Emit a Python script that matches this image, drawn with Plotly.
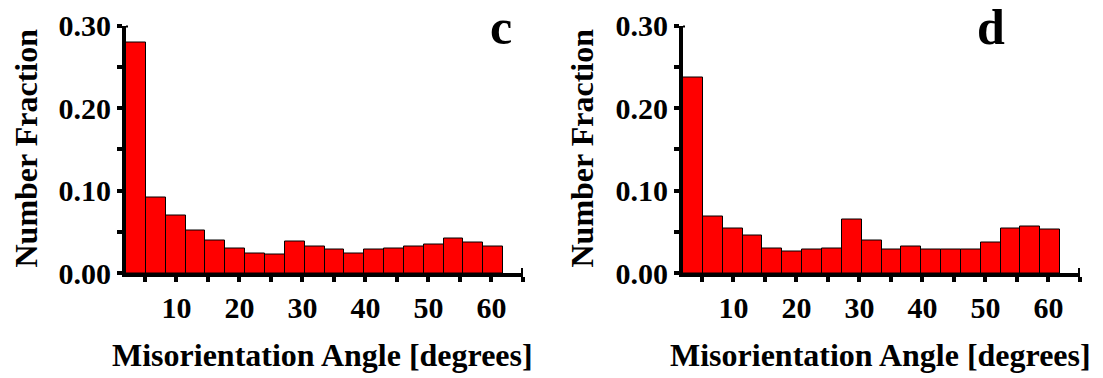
import plotly.graph_objects as go

W, H = 1103, 378

# Data (number fraction per misorientation bin)
bin_start = 2.0
bin_width = 3.15
frac_c = [0.280, 0.092, 0.070, 0.051, 0.039, 0.030, 0.024, 0.022, 0.038, 0.032,
          0.029, 0.024, 0.029, 0.030, 0.032, 0.035, 0.042, 0.037, 0.032]
frac_d = [0.237, 0.068, 0.054, 0.045, 0.030, 0.026, 0.029, 0.030, 0.065, 0.040,
          0.029, 0.032, 0.029, 0.029, 0.029, 0.037, 0.054, 0.056, 0.053]
x_tick_vals = [5, 10, 15, 20, 25, 30, 35, 40, 45, 50, 55, 60, 65]
x_tick_text = ["", "10", "", "20", "", "30", "", "40", "", "50", "", "60", ""]
y_tick_vals = [0, 0.05, 0.10, 0.15, 0.20, 0.25, 0.30]
y_tick_text = ["0.00", "", "0.10", "", "0.20", "", "0.30"]
panel_labels = ["c", "d"]
x_title = "Misorientation Angle [degrees]"
y_title = "Number Fraction"

centers = [bin_start + bin_width * (i + 0.5) for i in range(len(frac_c))]

def px(x):
    return x / W

def py(y):
    return 1 - y / H

FONT = "Liberation Serif"
tickfont = dict(family=FONT, size=30, color="black", weight="bold")

fig = go.Figure()
for k, vals in enumerate([frac_c, frac_d]):
    fig.add_trace(go.Bar(
        x=centers, y=vals, width=bin_width,
        marker=dict(color="#ff0000", line=dict(color="black", width=1)),
        xaxis="x" if k == 0 else "x2", yaxis="y" if k == 0 else "y2",
        showlegend=False,
    ))

ydom = [py(273), py(25.5)]
axis_common = dict(
    showgrid=False, zeroline=False, showline=True, linecolor="black", linewidth=4,
    ticks="outside", ticklen=5, tickwidth=4, tickcolor="black", tickfont=tickfont,
    automargin=False,
)
fig.update_layout(
    width=W, height=H, margin=dict(l=0, r=0, t=0, b=0, autoexpand=False),
    paper_bgcolor="white", plot_bgcolor="white", bargap=0,
    xaxis=dict(domain=[px(126), px(523)], range=[2, 65], anchor="y",
               tickvals=x_tick_vals, ticktext=x_tick_text, ticklabelstandoff=0, **axis_common),
    yaxis=dict(domain=ydom, range=[0, 0.30], anchor="x",
               tickvals=y_tick_vals, ticktext=y_tick_text, ticklabelstandoff=0, **axis_common),
    xaxis2=dict(domain=[px(683), px(1080)], range=[2, 65], anchor="y2",
                tickvals=x_tick_vals, ticktext=x_tick_text, ticklabelstandoff=0, **axis_common),
    yaxis2=dict(domain=ydom, range=[0, 0.30], anchor="x2",
                tickvals=y_tick_vals, ticktext=y_tick_text, ticklabelstandoff=0, **axis_common),
)

annots = []
titlefont = dict(family=FONT, size=32, color="black", weight="bold")
for k, (xt, yt_x) in enumerate([(322, 26), (880, 582)]):
    annots.append(dict(text=x_title, x=px(xt), y=py(355), xref="paper", yref="paper",
                       xanchor="center", yanchor="middle", showarrow=False, font=titlefont))
    annots.append(dict(text=y_title, x=px(yt_x), y=py(148.5), xref="paper", yref="paper",
                       xanchor="center", yanchor="middle", textangle=-90, showarrow=False,
                       font=titlefont))
for lab, xc in zip(panel_labels, [501, 991]):
    annots.append(dict(text=lab, x=px(xc), y=1, xref="paper", yref="paper",
                       xanchor="center", yanchor="top", yshift=3, showarrow=False,
                       font=dict(family=FONT, size=50, color="black", weight="bold")))
fig.update_layout(annotations=annots)

# axis end caps
shapes = []
for xa, ya in [("x", "y"), ("x2", "y2")]:
    shapes.append(dict(type="rect", xref=xa, yref=ya, xsizemode="pixel", ysizemode="pixel",
                       xanchor=65, yanchor=0, x0=-2, x1=2, y0=-5, y1=5,
                       fillcolor="black", line=dict(width=0)))
    shapes.append(dict(type="rect", xref=xa, yref=ya, xsizemode="pixel", ysizemode="pixel",
                       xanchor=2, yanchor=0.30, x0=-5, x1=2, y0=-2, y1=2,
                       fillcolor="black", line=dict(width=0)))
fig.update_layout(shapes=shapes)

fig.write_html("out.html")
